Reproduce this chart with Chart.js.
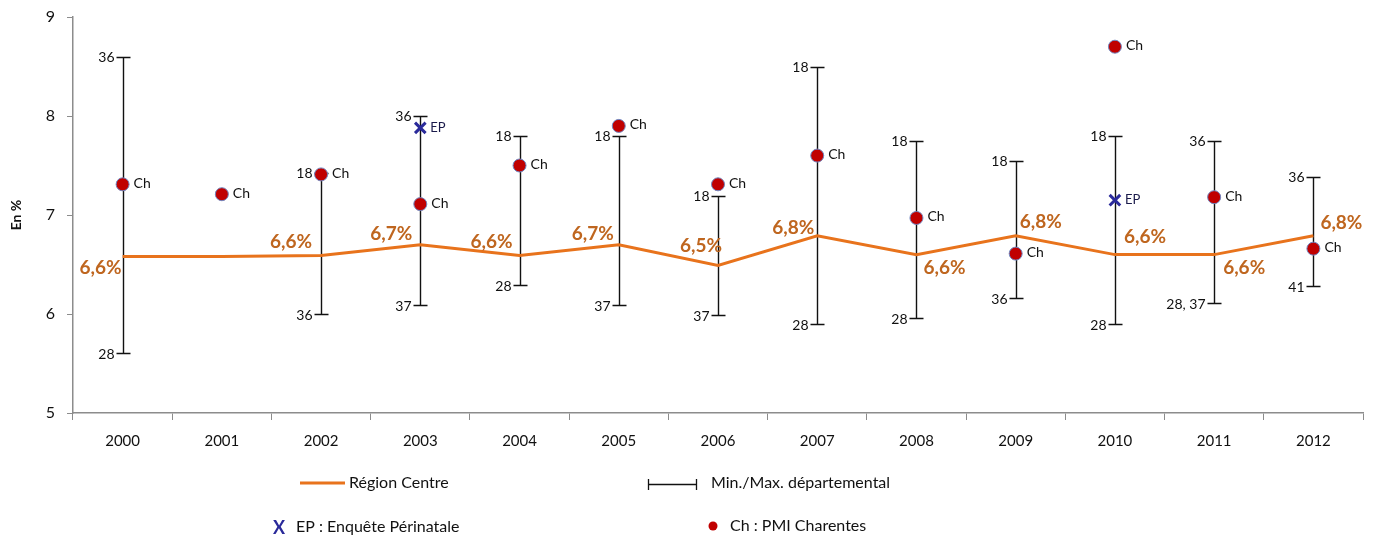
<!DOCTYPE html>
<html>
<head>
<meta charset="utf-8">
<script src="https://cdn.jsdelivr.net/npm/chart.js@4.4.1/dist/chart.umd.min.js"></script>
<style>
  html, body { margin: 0; background: #fff; }
</style>
</head>
<body>
<canvas id="chart" width="1380" height="542"></canvas>
<script>
// Data
const years = ["2000", "2001", "2002", "2003", "2004", "2005", "2006", "2007", "2008", "2009", "2010", "2011", "2012"]
const regionCentre = [6.58, 6.58, 6.59, 6.70, 6.59, 6.70, 6.49, 6.79, 6.60, 6.79, 6.60, 6.60, 6.79]
const deptMax = [8.60, null, 7.42, 8.00, 7.80, 7.80, 7.19, 8.50, 7.75, 7.55, 7.80, 7.75, 7.38]
const deptMin = [5.61, null, 6.00, 6.09, 6.29, 6.09, 5.99, 5.90, 5.96, 6.16, 5.90, 6.11, 6.28]
const maxLabels = ["36", null, "18", "36", "18", "18", "18", "18", "18", "18", "18", "36", "36"]
const minLabels = ["28", null, "36", "37", "28", "37", "37", "28", "28", "36", "28", "28, 37", "41"]
const pmiCharentes = [7.31, 7.21, 7.41, 7.11, 7.50, 7.90, 7.31, 7.60, 6.97, 6.61, 8.70, 7.18, 6.66]
const enquetePerinatale = [null, null, null, 7.88, null, null, null, null, null, null, 7.15, null, null]
const yTicks = [5, 6, 7, 8, 9]

// Where each "Région Centre" value label sits around its point
const valueLabelPlacement = [
  ["right", -1, 11], null, ["right", -9, -14], ["right", -8, -11], ["right", -7, -14],
  ["right", -5, -11], ["right", 4, -20], ["right", -3, -8], ["left", 7, 13],
  ["left", 4, -14], ["left", 9, -18], ["left", 9, 13], ["left", 7, -13]
]

const FONT = "Lato, 'Open Sans', sans-serif"
const ORANGE = "#E8731C"
const LABEL_ORANGE = "#BF661F"

function pct(v) {
  return v.toFixed(1).replace(".", ",") + "%"
}

// Min/max whiskers with department labels
const errorBars = {
  id: "errorBars",
  beforeDatasetsDraw(chart) {
    const { ctx, scales: { x, y } } = chart
    ctx.save()
    ctx.strokeStyle = "#111"
    ctx.lineWidth = 1.4
    ctx.fillStyle = "#111"
    ctx.font = "14px " + FONT
    ctx.textAlign = "right"
    ctx.textBaseline = "middle"
    years.forEach((yr, i) => {
      if (deptMin[i] == null) return
      const px = Math.round(x.getPixelForValue(i)) + 0.5
      const top = Math.round(y.getPixelForValue(deptMax[i])) + 0.5
      const bot = Math.round(y.getPixelForValue(deptMin[i])) + 0.5
      ctx.beginPath()
      ctx.moveTo(px, top); ctx.lineTo(px, bot)
      ctx.moveTo(px - 7, top); ctx.lineTo(px + 7, top)
      ctx.moveTo(px - 7, bot); ctx.lineTo(px + 7, bot)
      ctx.stroke()
      ctx.fillText(maxLabels[i], px - 9, top)
      ctx.fillText(minLabels[i], px - 9, bot + 1)
    })
    ctx.restore()
  }
}

// Value labels and point tags
const pointLabels = {
  id: "pointLabels",
  afterDatasetsDraw(chart) {
    const { ctx, scales: { x, y } } = chart
    ctx.save()
    ctx.textBaseline = "middle"

    ctx.font = "bold 19px " + FONT
    ctx.fillStyle = LABEL_ORANGE
    regionCentre.forEach((v, i) => {
      const p = valueLabelPlacement[i]
      if (!p) return
      ctx.textAlign = p[0]
      ctx.fillText(pct(v), x.getPixelForValue(i) + p[1], y.getPixelForValue(v) + p[2])
    })

    ctx.textAlign = "left"
    ctx.font = "14px " + FONT
    ctx.fillStyle = "#111"
    pmiCharentes.forEach((v, i) => {
      ctx.fillText("Ch", x.getPixelForValue(i) + 11, y.getPixelForValue(v) - 1)
    })

    ctx.font = "13px " + FONT
    ctx.fillStyle = "#1a1a4a"
    enquetePerinatale.forEach((v, i) => {
      if (v == null) return
      ctx.fillText("EP", x.getPixelForValue(i) + 10, y.getPixelForValue(v))
    })
    ctx.restore()
  }
}

// Legend drawn below the axis
const customLegend = {
  id: "customLegend",
  afterDraw(chart) {
    const ctx = chart.ctx
    ctx.save()
    ctx.textBaseline = "middle"
    ctx.textAlign = "left"
    ctx.font = "16px " + FONT
    ctx.fillStyle = "#111"

    ctx.strokeStyle = ORANGE
    ctx.lineWidth = 3
    ctx.beginPath(); ctx.moveTo(300, 483); ctx.lineTo(345, 483); ctx.stroke()
    ctx.fillText("Région Centre", 349, 483)

    ctx.strokeStyle = "#111"
    ctx.lineWidth = 1.3
    ctx.beginPath()
    ctx.moveTo(648, 484.5); ctx.lineTo(697, 484.5)
    ctx.moveTo(648.5, 479); ctx.lineTo(648.5, 490)
    ctx.moveTo(696.5, 479); ctx.lineTo(696.5, 490)
    ctx.stroke()
    ctx.fillText("Min./Max. départemental", 711, 483)

    ctx.font = "bold 18px " + FONT
    ctx.fillStyle = "#2a2a9a"
    ctx.fillText("X", 273, 528)
    ctx.font = "16px " + FONT
    ctx.fillStyle = "#111"
    ctx.fillText("EP : Enquête Périnatale", 296, 527)

    ctx.fillStyle = "#C00000"
    ctx.beginPath(); ctx.arc(713, 526, 4.5, 0, Math.PI * 2); ctx.fill()
    ctx.fillStyle = "#111"
    ctx.fillText("Ch : PMI Charentes", 730, 526)
    ctx.restore()
  }
}

new Chart(document.getElementById("chart"), {
  data: {
    labels: years,
    datasets: [
      {
        type: "line",
        label: "Ch : PMI Charentes",
        data: pmiCharentes,
        showLine: false,
        pointRadius: 6.5,
        pointBackgroundColor: "#C00000",
        pointBorderColor: "#6F86C0",
        pointBorderWidth: 1,
        order: 1
      },
      {
        type: "line",
        label: "EP : Enquête Périnatale",
        data: enquetePerinatale,
        showLine: false,
        pointStyle: "crossRot",
        pointRadius: 7.5,
        pointBorderColor: "#2a2a9a",
        pointBorderWidth: 3,
        order: 2
      },
      {
        type: "line",
        label: "Région Centre",
        data: regionCentre,
        borderColor: ORANGE,
        borderWidth: 3,
        pointRadius: 0,
        tension: 0,
        order: 3
      }
    ]
  },
  options: {
    responsive: false,
    animation: false,
    layout: { padding: { top: 17, right: 17, left: 0, bottom: 0 } },
    plugins: {
      legend: { display: false },
      tooltip: { enabled: false }
    },
    scales: {
      x: {
        type: "category",
        offset: true,
        grid: { offset: true, drawOnChartArea: false, tickLength: 7, color: "#8c8c8c" },
        border: { color: "#8c8c8c", width: 1.5 },
        ticks: { padding: 12, color: "#111", font: { family: FONT, size: 15 }, maxRotation: 0 },
        afterFit(scale) {
          scale.height = 129
          scale.paddingLeft = 0
          scale.paddingRight = 0
        }
      },
      y: {
        min: 5,
        max: 9,
        afterBuildTicks(scale) { scale.ticks = yTicks.map(v => ({ value: v })) },
        grid: { drawOnChartArea: false, tickLength: 6, color: "#8c8c8c" },
        border: { color: "#8c8c8c", width: 1.5 },
        ticks: { padding: 12, color: "#111", font: { family: FONT, size: 16 } },
        title: { display: true, text: "En %", color: "#111", padding: { top: 8 }, font: { family: FONT, size: 14, weight: "bold" } },
        afterFit(scale) {
          scale.width = 73
          scale.paddingTop = 0
          scale.paddingBottom = 0
        }
      }
    }
  },
  plugins: [errorBars, pointLabels, customLegend]
})
</script>
</body>
</html>
